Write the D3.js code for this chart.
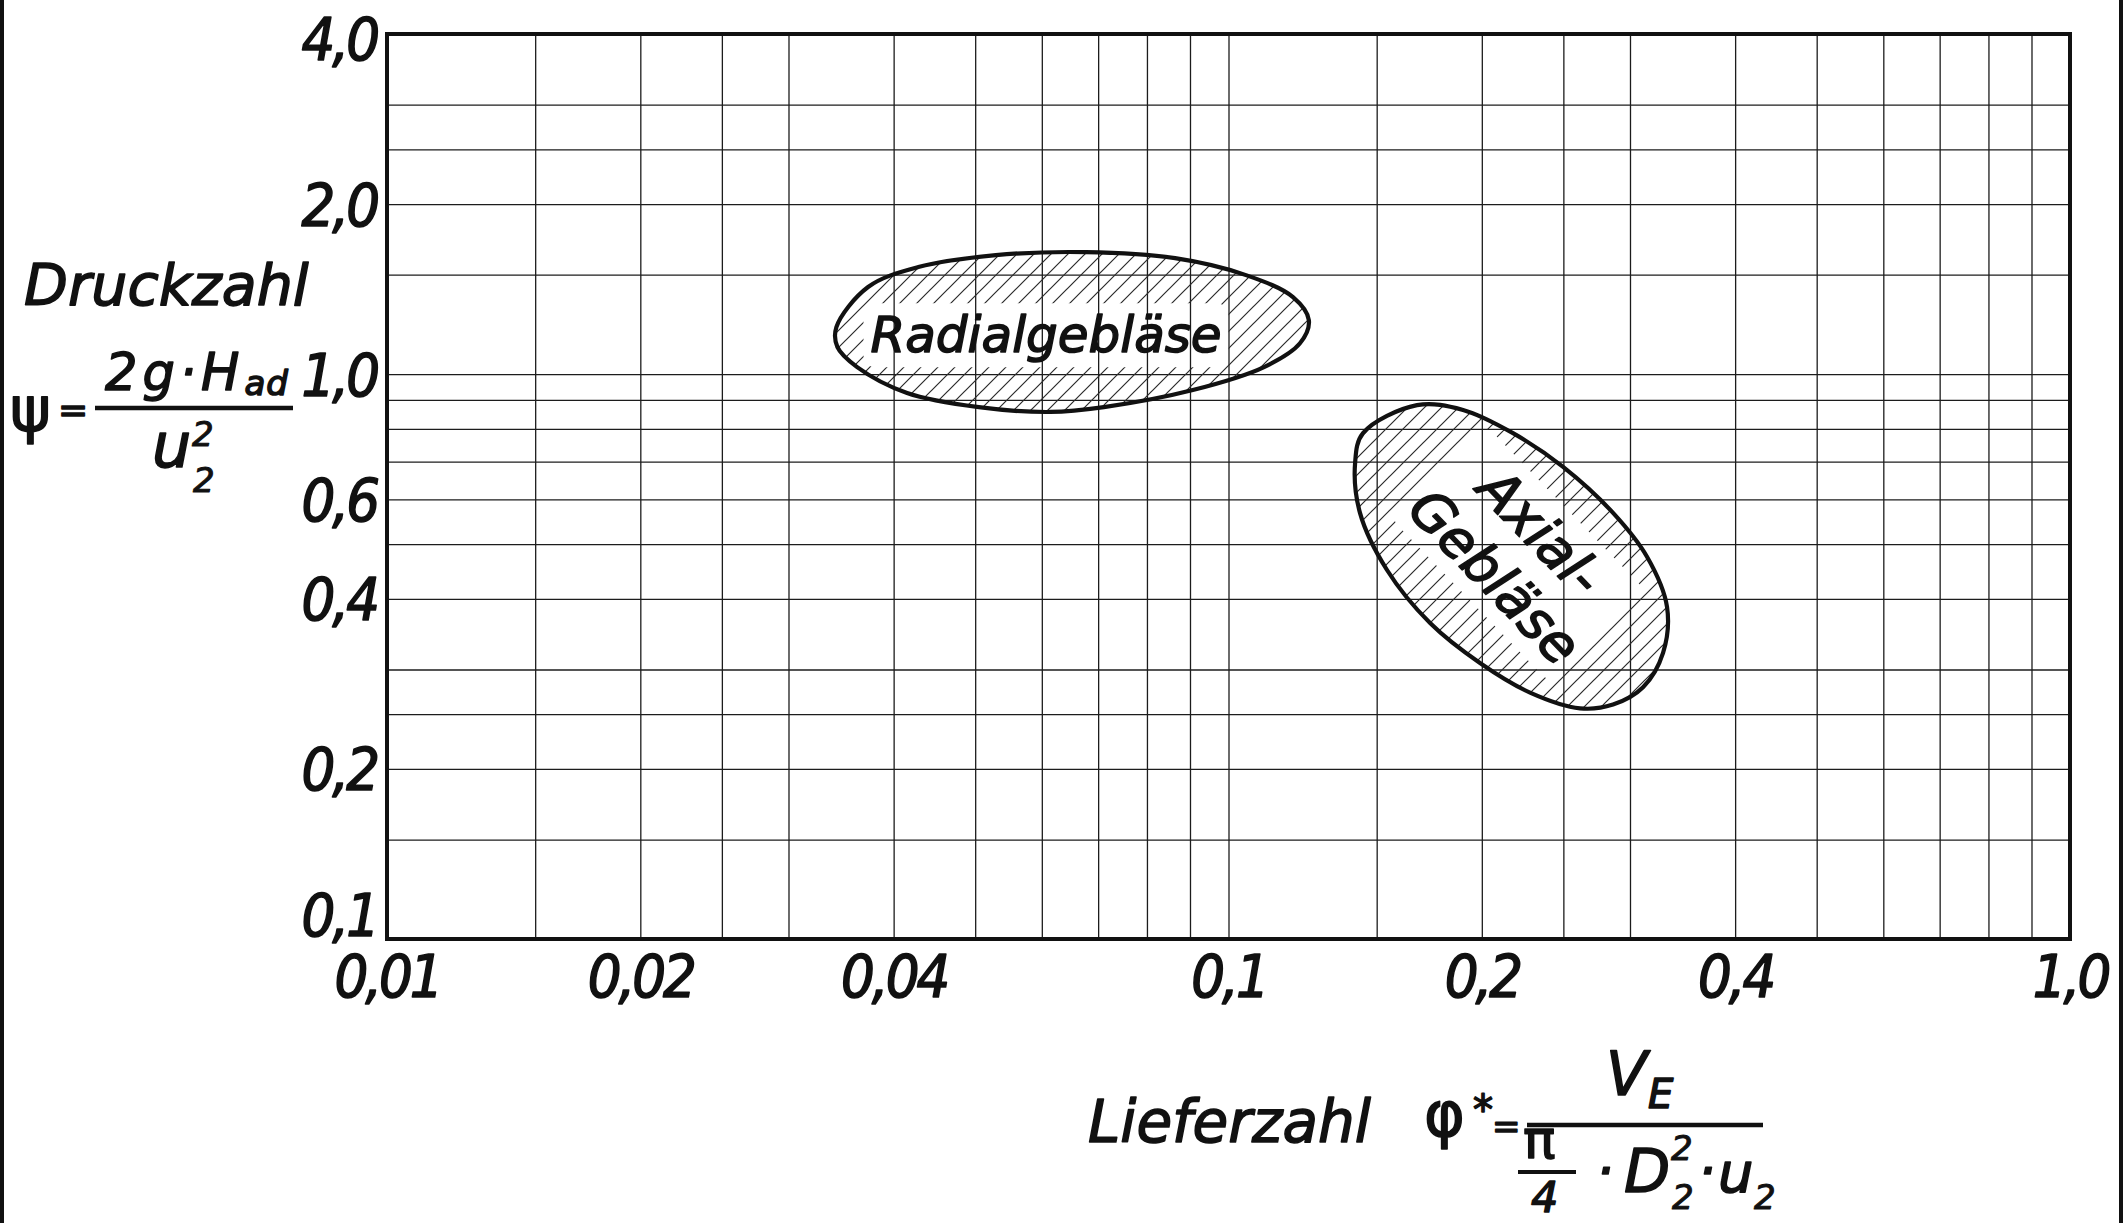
<!DOCTYPE html>
<html><head><meta charset="utf-8">
<script src="https://cdn.jsdelivr.net/npm/d3@7"></script>
<style>
html,body{margin:0;padding:0;background:#fff;}
svg{display:block;background:#fff;}
text{font-family:"DejaVu Sans",sans-serif;font-style:italic;fill:#111;stroke:#111;stroke-width:1.5px;stroke-linejoin:round;}
.tick-label{font-family:"DejaVu Sans Condensed","DejaVu Sans",sans-serif;font-size:59px;letter-spacing:-3px;}
.upright{font-style:normal;}
.small{stroke-width:1px;}
</style></head><body>
<svg id="chart" width="2126" height="1223"></svg>
<script>
// ---- data ----
const xTickValues = [0.01, 0.02, 0.04, 0.1, 0.2, 0.4, 1.0];
const xTickLabels = ["0,01", "0,02", "0,04", "0,1", "0,2", "0,4", "1,0"];
const yTickValues = [0.1, 0.2, 0.4, 0.6, 1.0, 2.0, 4.0];
const yTickLabels = ["0,1", "0,2", "0,4", "0,6", "1,0", "2,0", "4,0"];
const xGridValues = [0.015, 0.02, 0.025, 0.03, 0.04, 0.05, 0.06, 0.07, 0.08, 0.09,
                     0.1, 0.15, 0.2, 0.25, 0.3, 0.4, 0.5, 0.6, 0.7, 0.8, 0.9];
const yGridValues = [0.15, 0.2, 0.25, 0.3, 0.4, 0.5, 0.6, 0.7, 0.8, 0.9,
                     1.0, 1.5, 2.0, 2.5, 3.0];

// outline of the "Radialgebläse" region (Lieferzahl phi*, Druckzahl psi)
const radialPhi = [0.0342, 0.0373, 0.0428, 0.0529, 0.0677, 0.0864, 0.1049, 0.1193, 0.1246,
                   0.1216, 0.1102, 0.0907, 0.0711, 0.0614, 0.0505, 0.0415, 0.0362, 0.0343];
const radialPsi = [1.211, 1.426, 1.547, 1.624, 1.644, 1.604, 1.497, 1.369, 1.246,
                   1.134, 1.029, 0.937, 0.874, 0.857, 0.874, 0.926, 1.029, 1.116];
// outline of the "Axial-Gebläse" region
const axialPhi = [0.1445, 0.1675, 0.190, 0.2178, 0.2498, 0.2864, 0.3143, 0.332, 0.3284,
                  0.3109, 0.2864, 0.2617, 0.2282, 0.199, 0.1736, 0.1543, 0.1433, 0.1414];
const axialPsi = [0.786, 0.881, 0.864, 0.786, 0.685, 0.568, 0.475, 0.387, 0.321,
                  0.279, 0.260, 0.256, 0.273, 0.308, 0.3625, 0.450, 0.568, 0.696];

const regionLines = [["Radialgebläse"], ["Axial-", "Gebläse"]];
const regionLabelPhi = [0.0607, 0.2208];
const regionLabelPsi = [1.172, 0.480];
const regionLabelAngle = [0, 46];

// ---- layout ----
const W = 2126, H = 1223;
const margin = {left: 387, top: 34, right: 56, bottom: 284};
const width = W - margin.left - margin.right;
const height = H - margin.top - margin.bottom;

const svg = d3.select("#chart");
const defs = svg.append("defs");

// hatch pattern
const pat = defs.append("pattern").attr("id", "hatch")
  .attr("patternUnits", "userSpaceOnUse").attr("width", 17).attr("height", 17);
pat.append("path").attr("d", "M-4,4 L4,-4 M0,17 L17,0 M13,21 L21,13")
  .attr("stroke", "#2a2a2a").attr("stroke-width", 1.2).attr("fill", "none");

// page side rules (scan frame)
svg.append("rect").attr("x", 0).attr("y", 0).attr("width", 4).attr("height", H).attr("fill", "#111");
svg.append("rect").attr("x", 2119).attr("y", 0).attr("width", 4).attr("height", H).attr("fill", "#111");

const g = svg.append("g").attr("transform", `translate(${margin.left},${margin.top})`);

const x = d3.scaleLog().domain([0.01, 1.0]).range([0, width]);
const y = d3.scaleLog().domain([0.1, 4.0]).range([height, 0]);

// grid
const gx = g.append("g").attr("transform", `translate(0,${height})`)
  .call(d3.axisBottom(x).tickValues(xGridValues).tickSize(-height).tickFormat(""));
gx.select(".domain").remove();
gx.selectAll("line").attr("stroke", "#1c1c1c").attr("stroke-width", 1.3);

const gy = g.append("g")
  .call(d3.axisLeft(y).tickValues(yGridValues).tickSize(-width).tickFormat(""));
gy.select(".domain").remove();
gy.selectAll("line").attr("stroke", "#1c1c1c").attr("stroke-width", 1.3);

// regions
const line = d3.line().x(d => x(d[0])).y(d => y(d[1])).curve(d3.curveCatmullRomClosed.alpha(0.5));
const outlines = [radialPhi.map((p, i) => [p, radialPsi[i]]), axialPhi.map((p, i) => [p, axialPsi[i]])];

outlines.forEach((pts, k) => {
  const cx = x(regionLabelPhi[k]), cy = y(regionLabelPsi[k]);
  const mask = defs.append("mask").attr("id", "mask" + k)
    .attr("maskUnits", "userSpaceOnUse").attr("x", -margin.left).attr("y", -margin.top)
    .attr("width", W).attr("height", H);
  mask.append("rect").attr("x", -margin.left).attr("y", -margin.top).attr("width", W).attr("height", H).attr("fill", "#fff");
  const knock = mask.append("g").attr("transform", `translate(${cx},${cy}) rotate(${regionLabelAngle[k]})`);

  g.append("path").attr("d", line(pts)).attr("fill", "url(#hatch)").attr("stroke", "none")
    .attr("mask", `url(#mask${k})`);
  g.append("path").attr("d", line(pts)).attr("fill", "none").attr("stroke", "#111").attr("stroke-width", 4.2);

  const lab = g.append("g").attr("transform", `translate(${cx},${cy}) rotate(${regionLabelAngle[k]})`);
  const n = regionLines[k].length;
  const fs = k === 0 ? 50 : 54;
  const lh = 64;
  const tl = lab.append("text").attr("text-anchor", "middle").attr("dominant-baseline", "central")
    .attr("font-size", fs).attr("font-style", k === 0 ? "italic" : "normal");
  regionLines[k].forEach((s, j) => {
    tl.append("tspan").attr("x", 0).attr("y", (j - (n - 1) / 2) * lh).text(s);
  });
  const bb = lab.node().getBBox();
  const pad = 7;
  knock.append("rect").attr("x", bb.x - pad).attr("y", bb.y - pad + 4)
    .attr("width", bb.width + 2 * pad).attr("height", bb.height + 2 * pad - 8)
    .attr("rx", 12).attr("fill", "#000");
});

// plot frame
g.append("rect").attr("x", 0).attr("y", 0).attr("width", width).attr("height", height)
  .attr("fill", "none").attr("stroke", "#111").attr("stroke-width", 4);

// tick labels
const ax = g.append("g").attr("transform", `translate(0,${height})`)
  .call(d3.axisBottom(x).tickValues(xTickValues).tickSize(0).tickFormat((d, i) => xTickLabels[i]));
ax.select(".domain").remove();
ax.attr("font-family", null).attr("font-size", null);
ax.selectAll("text").attr("class", "tick-label").attr("dy", null).attr("y", 58).attr("fill", "#111");

const ay = g.append("g")
  .call(d3.axisLeft(y).tickValues(yTickValues).tickSize(0).tickFormat((d, i) => yTickLabels[i]));
ay.select(".domain").remove();
ay.attr("font-family", null).attr("font-size", null);
ay.selectAll("text").attr("class", "tick-label").attr("dy", null).attr("x", -10).attr("fill", "#111")
  .attr("y", d => d === 0.1 ? -4 : (d === 4.0 ? 25 : 21));

// ---- y axis title ----
const t = svg.append("g");
t.append("text").attr("x", 24).attr("y", 305).attr("font-size", 57).text("Druckzahl");
const psiEq = t.append("text").attr("class", "upright").attr("x", 10).attr("y", 431).attr("font-size", 62);
psiEq.append("tspan").text("ψ");
psiEq.append("tspan").attr("x", 58).attr("y", 422).attr("font-size", 36).text("=");
t.append("line").attr("x1", 95).attr("x2", 293).attr("y1", 408).attr("y2", 408).attr("stroke", "#111").attr("stroke-width", 4.5);
const num = t.append("text").attr("x", 105).attr("y", 390).attr("font-size", 51).attr("letter-spacing", 5);
num.append("tspan").text("2g·H");
num.append("tspan").attr("font-size", 34).attr("dy", 5).attr("letter-spacing", 1).text("ad");
const den = t.append("text").attr("x", 152).attr("y", 467).attr("font-size", 62);
den.append("tspan").text("u");
den.append("tspan").attr("class", "small").attr("x", 192).attr("y", 446).attr("font-size", 34).text("2");
den.append("tspan").attr("class", "small").attr("x", 193).attr("y", 492).attr("font-size", 34).text("2");

// ---- x axis title ----
const tx = svg.append("g");
tx.append("text").attr("x", 1088).attr("y", 1142).attr("font-size", 58).text("Lieferzahl");
const phiEq = tx.append("text").attr("class", "upright").attr("x", 1424).attr("y", 1136).attr("font-size", 62);
phiEq.append("tspan").text("φ");
phiEq.append("tspan").attr("x", 1473).attr("y", 1124).attr("font-size", 40).text("*");
phiEq.append("tspan").attr("x", 1492).attr("y", 1138).attr("font-size", 34).text("=");
tx.append("line").attr("x1", 1527).attr("x2", 1763).attr("y1", 1125).attr("y2", 1125).attr("stroke", "#111").attr("stroke-width", 4.5);
const ve = tx.append("text").attr("x", 1606).attr("y", 1095).attr("font-size", 60);
ve.append("tspan").text("V");
ve.append("tspan").attr("x", 1648).attr("y", 1108).attr("font-size", 40).text("E");
const pi4 = tx.append("text").attr("class", "upright").attr("x", 1523).attr("y", 1158).attr("font-size", 54);
pi4.append("tspan").text("π");
pi4.append("tspan").attr("x", 1531).attr("y", 1212).attr("font-size", 43).attr("font-style", "italic").text("4");
tx.append("line").attr("x1", 1518).attr("x2", 1576).attr("y1", 1172).attr("y2", 1172).attr("stroke", "#111").attr("stroke-width", 4);
const den2 = tx.append("text").attr("x", 1596).attr("y", 1190).attr("font-size", 56);
den2.append("tspan").text("·");
den2.append("tspan").attr("x", 1624).attr("y", 1192).attr("font-size", 60).text("D");
den2.append("tspan").attr("class", "small").attr("x", 1671).attr("y", 1160).attr("font-size", 34).text("2");
den2.append("tspan").attr("class", "small").attr("x", 1672).attr("y", 1209).attr("font-size", 34).text("2");
den2.append("tspan").attr("x", 1698).attr("y", 1190).attr("font-size", 56).text("·");
den2.append("tspan").attr("x", 1718).attr("y", 1192).attr("font-size", 56).text("u");
den2.append("tspan").attr("class", "small").attr("x", 1754).attr("y", 1209).attr("font-size", 34).text("2");
</script>
</body></html>
